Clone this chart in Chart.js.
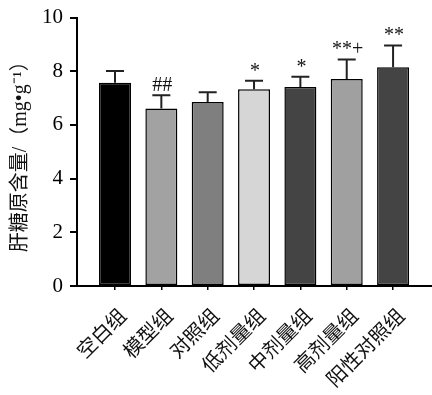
<!DOCTYPE html>
<html>
<head>
<meta charset="utf-8">
<script src="https://cdn.jsdelivr.net/npm/chart.js@4/dist/chart.umd.min.js"></script>
<style>
  html, body { margin: 0; padding: 0; background: #fff; }
  #wrap { width: 432px; height: 395px; }
</style>
</head>
<body>
<div id="wrap"><canvas id="chart" width="432" height="395"></canvas></div>
<script>
// groups on the x axis
const groups = ["空白组", "模型组", "对照组", "低剂量组", "中剂量组", "高剂量组", "阳性对照组"];
// mean liver glycogen (mg/g) and its error (upper half only drawn)
const means = [7.57, 6.61, 6.85, 7.33, 7.41, 7.71, 8.15];
const errors = [0.44, 0.49, 0.37, 0.31, 0.38, 0.73, 0.81];
// significance marks above each bar
const marks = ["", "##", "", "*", "*", "**+", "**"];
const barColors = ["#000000", "#a2a2a2", "#7f7f7f", "#d6d6d6", "#444444", "#a0a0a0", "#444444"];
const yTicks = [0, 2, 4, 6, 8, 10];

const serif = "'Liberation Serif', 'Noto Sans CJK SC', serif";

// draws the upward error bars and the marks over them
const errorBars = {
  id: "errorBars",
  afterDatasetsDraw(chart) {
    const ctx = chart.ctx;
    const x = chart.scales.x, y = chart.scales.y;
    ctx.save();
    ctx.strokeStyle = "#222";
    ctx.lineWidth = 2;
    means.forEach((m, i) => {
      const px = x.getPixelForValue(i);
      const top = y.getPixelForValue(m);
      const cap = y.getPixelForValue(m + errors[i]);
      ctx.beginPath();
      ctx.moveTo(px, top);
      ctx.lineTo(px, cap);
      ctx.moveTo(px - 9, cap);
      ctx.lineTo(px + 9, cap);
      ctx.stroke();
      if (marks[i]) {
        ctx.fillStyle = "#111";
        ctx.font = "20px " + serif;
        ctx.textAlign = "center";
        ctx.textBaseline = "alphabetic";
        ctx.fillText(marks[i], px + 1, cap - 4);
      }
    });
    ctx.restore();
  }
};

new Chart(document.getElementById("chart"), {
  type: "bar",
  data: {
    datasets: [{
      data: means.map((v, i) => ({ x: i, y: v })),
      backgroundColor: barColors,
      borderColor: "#000",
      borderWidth: 1.5,
      borderSkipped: false,
      barPercentage: 0.69,
      categoryPercentage: 1
    }]
  },
  options: {
    responsive: false,
    animation: false,
    layout: { padding: { top: 11, right: 0, left: 0, bottom: 0 } },
    plugins: { legend: { display: false }, tooltip: { enabled: false } },
    scales: {
      x: {
        type: "linear",
        offset: false,
        min: -0.82,
        max: 6.84,
        afterFit: (s) => { s.height = 109; },
        afterBuildTicks: (s) => { s.ticks = groups.map((g, i) => ({ value: i })); },
        border: { display: true, color: "#000", width: 2 },
        grid: { display: true, offset: false, drawOnChartArea: false, drawTicks: true, tickLength: 4, color: "#000", lineWidth: 1.5 },
        ticks: {
          autoSkip: false,
          minRotation: 45,
          maxRotation: 45,
          padding: 15,
          labelOffset: 9,
          color: "#111",
          font: { family: serif, size: 20 },
          callback: (v) => groups[v]
        }
      },
      y: {
        min: 0,
        max: 10,
        afterFit: (s) => { s.width = 77; },
        afterBuildTicks: (s) => { s.ticks = yTicks.map((v) => ({ value: v })); },
        border: { display: true, color: "#000", width: 2 },
        grid: { display: true, drawOnChartArea: false, drawTicks: true, tickLength: 7, color: "#000", lineWidth: 2 },
        ticks: {
          padding: 7,
          color: "#000",
          font: { family: serif, size: 21, lineHeight: 1 }
        },
        title: {
          display: true,
          text: "肝糖原含量/（mg•g⁻¹）",
          color: "#111",
          font: { family: serif, size: 20 },
          padding: { top: 9, bottom: 0 }
        }
      }
    }
  },
  plugins: [errorBars]
});
</script>
</body>
</html>
